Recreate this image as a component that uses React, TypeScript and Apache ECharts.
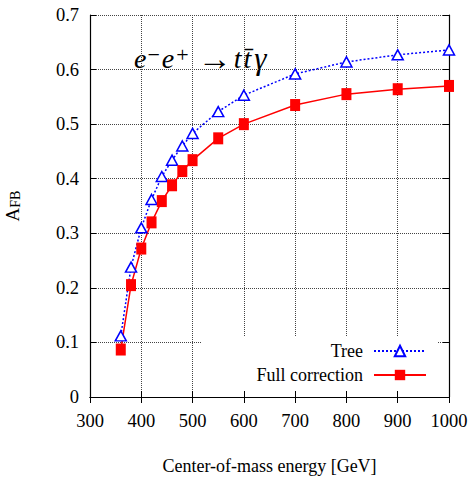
import React, { useEffect, useRef } from 'react';
import * as echarts from 'echarts';

const energies = [360, 380, 400, 420, 440, 460, 480, 500, 550, 600, 700, 800, 900, 1000];
const treeValues = [0.112, 0.238, 0.310, 0.362, 0.404, 0.434, 0.460, 0.483, 0.523, 0.553, 0.592, 0.614, 0.627, 0.636];
const fullValues = [0.087, 0.205, 0.272, 0.320, 0.359, 0.388, 0.414, 0.434, 0.474, 0.500, 0.535, 0.555, 0.564, 0.570];
const seriesNames = ['Tree', 'Full correction'];
const xRange = { min: 300, max: 1000, interval: 100 };
const yRange = { min: 0, max: 0.7, interval: 0.1 };

const FONT = 'Liberation Serif';

export default function App() {
  const ref = useRef<HTMLDivElement>(null);
  useEffect(() => {
    if (!ref.current) return;
    const chart = echarts.init(ref.current, undefined, { renderer: 'svg' });
    const gridLine = { show: true, lineStyle: { color: '#444', type: 'dotted', width: 1 } };
    const axisLine = { show: true, lineStyle: { color: '#000', width: 1.2 } };
    const tick = { show: true, inside: true, length: 6, lineStyle: { color: '#000' } };
    const main = { fontFamily: FONT, fontStyle: 'italic', fontSize: 28, lineHeight: 30, verticalAlign: 'middle', fill: '#000' };
    chart.setOption({
      animation: false,
      backgroundColor: '#fff',
      grid: { left: 90, right: 23, top: 15, bottom: 81, outerBoundsMode: 'none', containLabel: false },
      xAxis: [
        {
          type: 'value', ...xRange,
          axisLine, axisTick: tick, splitLine: gridLine,
          axisLabel: { fontFamily: FONT, fontSize: 18.5, color: '#000', margin: 14, formatter: (v: number) => String(v) },
          name: 'Center-of-mass energy [GeV]', nameLocation: 'middle', nameGap: 60,
          nameTextStyle: { fontFamily: FONT, fontSize: 18, color: '#000' },
        },
        {
          type: 'value', position: 'top', ...xRange,
          axisLine, axisTick: tick, splitLine: { show: false }, axisLabel: { show: false },
        },
      ],
      yAxis: [
        {
          type: 'value', ...yRange,
          axisLine, axisTick: tick, splitLine: gridLine,
          axisLabel: { fontFamily: FONT, fontSize: 18.5, color: '#000', margin: 11, formatter: (v: number) => String(Math.round(v * 10) / 10) },
          name: '{a|A}{s|FB}', nameLocation: 'middle', nameRotate: 90, nameGap: 68,
          nameTextStyle: {
            color: '#000',
            rich: {
              a: { fontFamily: FONT, fontSize: 19, lineHeight: 20, verticalAlign: 'middle', color: '#000' },
              s: { fontFamily: FONT, fontSize: 14, lineHeight: 15, verticalAlign: 'bottom', color: '#000' },
            },
          },
        },
        {
          type: 'value', position: 'right', ...yRange,
          axisLine, axisTick: tick, splitLine: { show: false }, axisLabel: { show: false },
        },
      ],
      legend: {
        data: seriesNames,
        orient: 'vertical',
        align: 'right',
        right: 34,
        top: 337,
        padding: [5, 11, 6, 55],
        itemGap: 6,
        itemWidth: 52,
        itemHeight: 13,
        backgroundColor: '#fff',
        textStyle: { fontFamily: FONT, fontSize: 18, color: '#000', padding: [0, 6, 0, 0] },
      },
      graphic: [
        {
          type: 'text',
          left: 134,
          top: 41,
          style: {
            text: '{e|e}{m|−}{e2|e}{p|+}{r|→}{t|t}{t2|t\u0304}{g|γ}',
            rich: {
              e: { ...main },
              m: { fontFamily: FONT, fontSize: 22, lineHeight: 6, verticalAlign: 'top', fill: '#000', padding: [0, 2, 0, 1] },
              e2: { ...main },
              p: { fontFamily: FONT, fontSize: 22, lineHeight: 16, verticalAlign: 'top', fill: '#000', padding: [0, 0, 0, 2] },
              r: { ...main, fontStyle: 'normal', fontSize: 34, padding: [0, 2, 0, 9] },
              t: { ...main, padding: [0, 2, 0, 0] },
              t2: { ...main, padding: [0, 3, 0, 0] },
              g: { ...main, fontSize: 31 },
            },
          },
        },
      ],
      series: [
        {
          name: seriesNames[0],
          type: 'line',
          data: energies.map((e, i) => [e, treeValues[i]]),
          symbol: 'triangle',
          symbolSize: [11, 10],
          itemStyle: { color: '#fff', borderColor: '#0000ff', borderWidth: 1.5 },
          lineStyle: { color: '#0000ff', type: [2, 2], width: 1.5 },
          emphasis: { disabled: true },
          z: 3,
        },
        {
          name: seriesNames[1],
          type: 'line',
          data: energies.map((e, i) => [e, fullValues[i]]),
          symbol: 'rect',
          symbolSize: [10, 12],
          itemStyle: { color: '#ff0000' },
          lineStyle: { color: '#ff0000', width: 1.5 },
          emphasis: { disabled: true },
          z: 3,
        },
      ],
    });
    return () => chart.dispose();
  }, []);
  return <div ref={ref} style={{ width: 472, height: 478, position: 'absolute', left: 0, top: 0 }} />;
}
